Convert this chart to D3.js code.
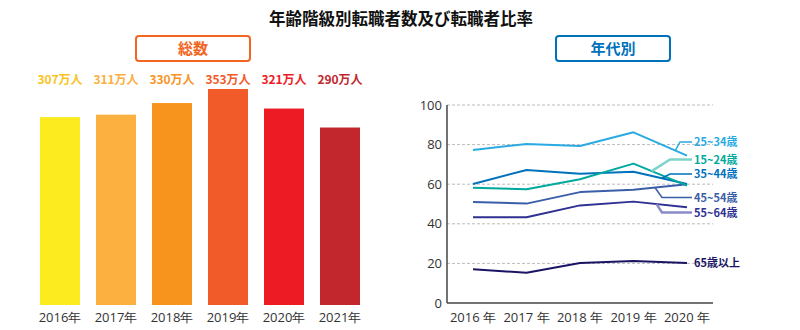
<!DOCTYPE html>
<html>
<head>
<meta charset="utf-8">
<script src="https://cdn.jsdelivr.net/npm/d3@7"></script>
<style>
  body { margin: 0; background: #fff; }
  svg { display: block; font-family: "Noto Sans CJK JP", "Noto Sans", sans-serif; }
  .num { font-family: "Open Sans", "Noto Sans", sans-serif; }
</style>
</head>
<body>
<div id="vis"></div>
<script>
// ---- data ----
var barYears = ["2016年", "2017年", "2018年", "2019年", "2020年", "2021年"];
var totals = [307, 311, 330, 353, 321, 290];
var barColors = ["#fcec1f", "#fbb040", "#f7941e", "#f15a29", "#ed1c24", "#c1272d"];
var barLabelColors = ["#f9c31c", "#fbb040", "#f7941e", "#f15a29", "#ed1c24", "#c1272d"];

var lineYears = ["2016 年", "2017 年", "2018 年", "2019 年", "2020 年"];
var ageGroups = ["25~34歳", "15~24歳", "35~44歳", "45~54歳", "55~64歳", "65歳以上"];
var age25_34 = [77.3, 80.3, 79.3, 86.2, 74.4];
var age15_24 = [58.2, 57.4, 62.5, 70.4, 59.3];
var age35_44 = [60.1, 67.2, 65.3, 66.3, 60.1];
var age45_54 = [51.0, 50.2, 56.0, 57.2, 60.0];
var age55_64 = [43.3, 43.3, 49.3, 51.2, 48.3];
var age65up  = [17.0, 15.3, 20.2, 21.2, 20.2];
var yTicks = [0, 20, 40, 60, 80, 100];

var series = [age25_34, age15_24, age35_44, age45_54, age55_64, age65up];
var lineColors = ["#29abe2", "#00a99d", "#0072bc", "#3b5ea8", "#2e3192", "#1b1464"];
var leaderColors = ["#29abe2", "#7fd3cb", "#0072bc", "#3b5ea8", "#8a8cc8", null];
var leaderWidths = [1.5, 2.5, 1.5, 1.5, 2.5, 0];

var width = 800, height = 330;
var svg = d3.select("#vis").append("svg")
  .attr("width", width)
  .attr("height", height);

// title
svg.append("text")
  .attr("x", 401).attr("y", 25)
  .attr("text-anchor", "middle")
  .style("font-size", "16.5px").style("font-weight", "bold").style("fill", "#111")
  .text("年齢階級別転職者数及び転職者比率");

// section boxes
function sectionBox(cx, label, color) {
  svg.append("rect")
    .attr("x", cx - 57).attr("y", 36)
    .attr("width", 114).attr("height", 25)
    .attr("rx", 3)
    .style("fill", "#fff").style("stroke", color).style("stroke-width", 2);
  svg.append("text")
    .attr("x", cx).attr("y", 54)
    .attr("text-anchor", "middle")
    .style("font-size", "15px").style("font-weight", "bold").style("fill", color)
    .text(label);
}
sectionBox(193, "総数", "#f26522");
sectionBox(613, "年代別", "#0072bc");

// ---- bar chart ----
var x = d3.scaleBand()
  .domain(barYears)
  .range([32, 368])
  .paddingInner(16 / 56)
  .paddingOuter(8 / 56);

var y = d3.scaleLinear()
  .domain([0, 400])
  .range([305, 305 - 244.8]);

var bars = svg.append("g");
bars.selectAll("rect")
  .data(totals)
  .enter().append("rect")
  .attr("x", function (d, i) { return x(barYears[i]); })
  .attr("y", function (d) { return y(d); })
  .attr("width", x.bandwidth())
  .attr("height", function (d) { return y(0) - y(d); })
  .style("fill", function (d, i) { return barColors[i]; });

bars.selectAll(".val")
  .data(totals)
  .enter().append("text")
  .attr("class", "val")
  .attr("x", function (d, i) { return x(barYears[i]) + x.bandwidth() / 2; })
  .attr("y", 84)
  .attr("text-anchor", "middle")
  .style("font-size", "12px").style("font-weight", "bold")
  .style("fill", function (d, i) { return barLabelColors[i]; })
  .text(function (d) { return d + "万人"; });

bars.selectAll(".yr")
  .data(barYears)
  .enter().append("text")
  .attr("class", "yr num")
  .attr("x", function (d) { return x(d) + x.bandwidth() / 2; })
  .attr("y", 322)
  .attr("text-anchor", "middle")
  .style("font-size", "13px").style("fill", "#333")
  .text(function (d) { return d; });

// ---- line chart ----
var lx = d3.scalePoint()
  .domain(lineYears)
  .range([473, 687]);

var ly = d3.scaleLinear()
  .domain([0, 100])
  .range([303, 105]);

var plot = svg.append("g");

// grid
plot.selectAll(".grid")
  .data(yTicks.filter(function (d) { return d > 0; }))
  .enter().append("line")
  .attr("x1", 447).attr("x2", 713)
  .attr("y1", function (d) { return ly(d); })
  .attr("y2", function (d) { return ly(d); })
  .style("stroke", "#bbb").style("stroke-dasharray", "3,2").style("stroke-width", 1);

// y labels
plot.selectAll(".ytick")
  .data(yTicks)
  .enter().append("text")
  .attr("class", "num")
  .attr("x", 442)
  .attr("y", function (d) { return ly(d) + 4.5; })
  .attr("text-anchor", "end")
  .style("font-size", "13px").style("fill", "#333")
  .text(function (d) { return d; });

// x labels
plot.selectAll(".xtick")
  .data(lineYears)
  .enter().append("text")
  .attr("class", "num")
  .attr("x", function (d) { return lx(d); })
  .attr("y", 322)
  .attr("text-anchor", "middle")
  .style("font-size", "13px").style("fill", "#333")
  .text(function (d) { return d; });

// axes
plot.append("line")
  .attr("x1", 447).attr("x2", 447)
  .attr("y1", ly(100)).attr("y2", ly(0))
  .style("stroke", "#444").style("stroke-width", 1.5);
plot.append("line")
  .attr("x1", 447).attr("x2", 713)
  .attr("y1", ly(0)).attr("y2", ly(0))
  .style("stroke", "#444").style("stroke-width", 1.5);

var line = d3.line()
  .x(function (d, i) { return lx(lineYears[i]); })
  .y(function (d) { return ly(d); });

// draw back to front so lighter lines sit under
var order = [5, 4, 3, 2, 0, 1];
order.forEach(function (k) {
  plot.append("path")
    .datum(series[k])
    .attr("d", line)
    .style("fill", "none")
    .style("stroke", lineColors[k])
    .style("stroke-width", 2)
    .style("stroke-linejoin", "round");
});

// leaders: touch point as fraction between 2019 and 2020, elbow x, label y
var leaderT = [0.78, 0.34, 0.53, 0.40, 0.43, null];
var elbowX = [680, 670, 670, 662, 662, null];
var labelY = [142, 159.5, 174, 197.5, 212.5, null];

series.forEach(function (s, k) {
  var ty;
  if (leaderT[k] !== null) {
    var t = leaderT[k];
    var tx = lx(lineYears[3]) + (lx(lineYears[4]) - lx(lineYears[3])) * t;
    var tv = s[3] + (s[4] - s[3]) * t;
    ty = labelY[k];
    plot.append("polyline")
      .attr("points", [[tx, ly(tv)], [elbowX[k], ty], [692, ty]].join(" "))
      .style("fill", "none")
      .style("stroke", leaderColors[k])
      .style("stroke-width", leaderWidths[k]);
  } else {
    ty = ly(s[4]);
  }
  plot.append("text")
    .attr("x", 694)
    .attr("y", ty + 4)
    .style("font-size", "11px").style("font-weight", "bold")
    .style("fill", lineColors[k])
    .text(ageGroups[k]);
});
</script>
</body>
</html>
